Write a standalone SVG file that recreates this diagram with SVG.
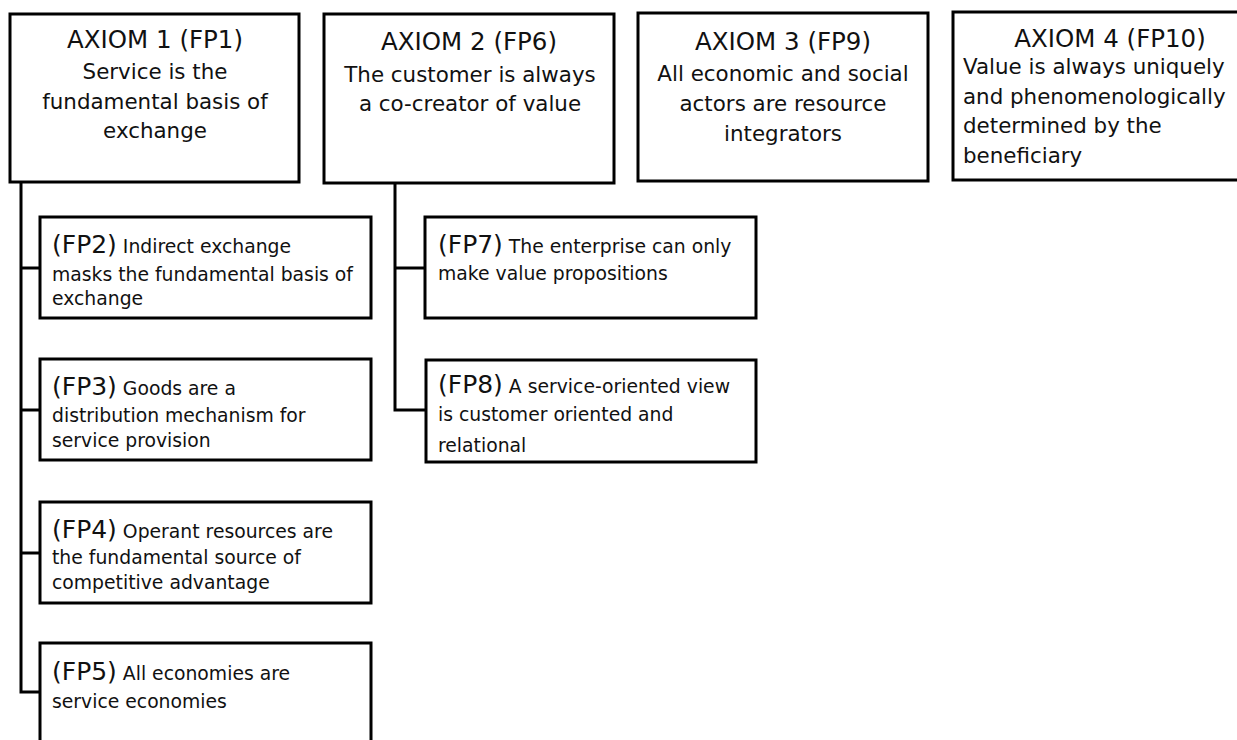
<svg xmlns="http://www.w3.org/2000/svg" width="1237" height="740" viewBox="0 0 1237 740">
  <style>
    .box { fill: #ffffff; stroke: #000000; stroke-width: 3; }
    .wire { fill: none; stroke: #000000; stroke-width: 3; }
    text { font-family: "DejaVu Sans", "Liberation Sans", sans-serif; fill: #111111; }
    .head { font-size: 24.5px; }
    .body { font-size: 21.4px; }
    .fp { font-size: 18.8px; }
    .tag { font-size: 25px; }
    .mid { text-anchor: middle; }
  </style>
  <rect width="1237" height="740" fill="#ffffff"/>

  <!-- tree connectors -->
  <g id="connectors">
    <polyline class="wire" points="21,182 21,692 40,692"/>
    <line class="wire" x1="21" y1="268" x2="40" y2="268"/>
    <line class="wire" x1="21" y1="410" x2="40" y2="410"/>
    <line class="wire" x1="21" y1="553" x2="40" y2="553"/>
    <polyline class="wire" points="395,183 395,410 426,410"/>
    <line class="wire" x1="395" y1="268" x2="425" y2="268"/>
  </g>

  <g id="axiom1">
    <rect class="box" x="10" y="14" width="289" height="168"/>
    <text class="head mid" x="155" y="48">AXIOM 1 (FP1)</text>
    <text class="body mid" x="155" y="79">Service is the</text>
    <text class="body mid" x="155" y="109">fundamental basis of</text>
    <text class="body mid" x="155" y="138">exchange</text>
  </g>

  <g id="axiom2">
    <rect class="box" x="324" y="14" width="290" height="169"/>
    <text class="head mid" x="469" y="50">AXIOM 2 (FP6)</text>
    <text class="body mid" x="470" y="82">The customer is always</text>
    <text class="body mid" x="470" y="111">a co-creator of value</text>
  </g>

  <g id="axiom3">
    <rect class="box" x="638" y="13" width="290" height="168"/>
    <text class="head mid" x="783" y="50">AXIOM 3 (FP9)</text>
    <text class="body mid" x="783" y="81">All economic and social</text>
    <text class="body mid" x="783" y="111">actors are resource</text>
    <text class="body mid" x="783" y="141">integrators</text>
  </g>

  <g id="axiom4">
    <rect class="box" x="953" y="12" width="320" height="168"/>
    <text class="head mid" x="1110" y="47">AXIOM 4 (FP10)</text>
    <text class="body" x="963" y="74">Value is always uniquely</text>
    <text class="body" x="963" y="104">and phenomenologically</text>
    <text class="body" x="963" y="133">determined by the</text>
    <text class="body" x="963" y="163">beneficiary</text>
  </g>

  <g id="fp2">
    <rect class="box" x="40" y="217" width="331" height="101"/>
    <text class="fp" x="52" y="253"><tspan class="tag">(FP2)</tspan> Indirect exchange</text>
    <text class="fp" x="52" y="281">masks the fundamental basis of</text>
    <text class="fp" x="52" y="305">exchange</text>
  </g>

  <g id="fp3">
    <rect class="box" x="40" y="359" width="331" height="101"/>
    <text class="fp" x="52" y="395"><tspan class="tag">(FP3)</tspan> Goods are a</text>
    <text class="fp" x="52" y="422">distribution mechanism for</text>
    <text class="fp" x="52" y="447">service provision</text>
  </g>

  <g id="fp4">
    <rect class="box" x="40" y="502" width="331" height="101"/>
    <text class="fp" x="52" y="538"><tspan class="tag">(FP4)</tspan> Operant resources are</text>
    <text class="fp" x="52" y="564">the fundamental source of</text>
    <text class="fp" x="52" y="589">competitive advantage</text>
  </g>

  <g id="fp5">
    <rect class="box" x="40" y="643" width="331" height="120"/>
    <text class="fp" x="52" y="680"><tspan class="tag">(FP5)</tspan> All economies are</text>
    <text class="fp" x="52" y="708">service economies</text>
  </g>

  <g id="fp7">
    <rect class="box" x="425" y="217" width="331" height="101"/>
    <text class="fp" x="438" y="253"><tspan class="tag">(FP7)</tspan> The enterprise can only</text>
    <text class="fp" x="438" y="280">make value propositions</text>
  </g>

  <g id="fp8">
    <rect class="box" x="426" y="360" width="330" height="102"/>
    <text class="fp" x="438" y="393"><tspan class="tag">(FP8)</tspan> A service-oriented view</text>
    <text class="fp" x="438" y="421">is customer oriented and</text>
    <text class="fp" x="438" y="452">relational</text>
  </g>
</svg>
